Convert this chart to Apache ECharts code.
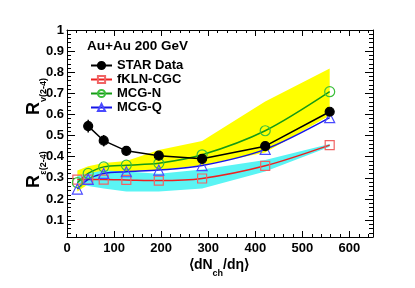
<!DOCTYPE html>
<html><head><meta charset="utf-8">
<script src="https://cdn.jsdelivr.net/npm/echarts@6/dist/echarts.min.js"></script>
<style>html,body{margin:0;padding:0;background:#fff}#c{width:415px;height:288px}</style>
</head><body><div id="c"></div>
<script>
// ---- data ----
const multX   = [22, 45, 78, 126, 195, 287, 421, 558];
const starX   = [45, 78, 126, 195, 287, 421, 558];
const starY   = [0.545, 0.476, 0.428, 0.405, 0.390, 0.450, 0.613];
const starErr = [0.030, 0.027, 0.022, 0.016, 0.013, 0.011, 0.011];
const fklnY   = [0.292, 0.292, 0.292, 0.290, 0.287, 0.297, 0.357, 0.455];
const mcgNY   = [0.277, 0.321, 0.352, 0.360, 0.369, 0.409, 0.523, 0.708];
const mcgQY   = [0.247, 0.293, 0.321, 0.329, 0.337, 0.358, 0.435, 0.585];
const yellowLo = [0.235, 0.270, 0.310, 0.330, 0.337, 0.360, 0.420, 0.595];
const yellowHi = [0.335, 0.355, 0.370, 0.380, 0.432, 0.475, 0.662, 0.818];
const cyanLo   = [0.275, 0.262, 0.250, 0.235, 0.235, 0.250, 0.330, 0.447];
const cyanHi   = [0.310, 0.322, 0.335, 0.330, 0.320, 0.340, 0.385, 0.460];
const yTickLabels = [0.1, 0.2, 0.3, 0.4, 0.5, 0.6, 0.7, 0.8, 0.9, 1.0];
const legendNames = ['STAR Data', 'fKLN-CGC', 'MCG-N', 'MCG-Q'];

const FONT = 'Liberation Sans, Arial, Helvetica, sans-serif';
const chart = echarts.init(document.getElementById('c'), null, {renderer: 'canvas'});

function bandSeries(lo, hi, color, z) {
  return {
    type: 'custom', silent: true, z: z, clip: true,
    data: multX.map((x, i) => [x, lo[i], hi[i]]),
    encode: {x: 0, y: [1, 2]},
    renderItem: function (params, api) {
      if (params.dataIndex !== 0) return null;
      const top = multX.map((x, i) => api.coord([x, hi[i]]));
      const bot = multX.map((x, i) => api.coord([x, lo[i]])).reverse();
      return {type: 'polygon', shape: {points: top.concat(bot)}, style: {fill: color}};
    }
  };
}
function lineSeries(name, xs, ys, symbol, size, lineColor, markColor, fill, z, smooth) {
  return {
    type: 'line', name: name, data: xs.map((x, i) => [x, ys[i]]),
    symbol: symbol, symbolSize: size, smooth: smooth, showAllSymbol: true, z: z,
    lineStyle: {color: lineColor, width: 1.5},
    itemStyle: {color: fill, borderColor: markColor, borderWidth: 1.2},
    emphasis: {disabled: true}
  };
}

const yMain = (pos, labels) => ({
  type: 'value', min: 0.02, max: 1, position: pos,
  axisLine: {show: true, lineStyle: {color: '#000', width: 1}},
  axisTick: {show: true, inside: true, length: 8, customValues: yTickLabels, lineStyle: {color: '#000'}},
  axisLabel: {show: labels, customValues: yTickLabels, margin: 3, color: '#000', fontSize: 13, fontWeight: 'bold', fontFamily: FONT,
              formatter: v => (Math.abs(v - 1) < 1e-6 ? '1' : v.toFixed(1))},
  splitLine: {show: false}
});
const yMinor = (pos) => ({
  type: 'value', min: 0.02, max: 1, interval: 0.02, position: pos,
  axisLine: {show: false}, axisLabel: {show: false}, splitLine: {show: false},
  axisTick: {show: true, inside: true, length: 4, lineStyle: {color: '#000'}}
});
const xAx = (pos, labels) => ({
  type: 'value', min: 0, max: 650, interval: 100, position: pos,
  axisLine: {show: true, onZero: false, lineStyle: {color: '#000', width: 1}},
  axisTick: {show: true, inside: true, length: 6, lineStyle: {color: '#000'}},
  minorTick: {show: true, splitNumber: 5, length: 3, lineStyle: {color: '#000'}},
  axisLabel: {show: labels, margin: 5, color: '#000', fontSize: 13, fontWeight: 'bold', fontFamily: FONT,
              showMaxLabel: false},
  splitLine: {show: false}
});

// text layout helpers for axis titles
const mctx = document.createElement('canvas').getContext('2d');
function tw(t, size) { mctx.font = 'bold ' + size + 'px ' + FONT; return mctx.measureText(t).width; }
const graphics = [];
(function xTitle() {
  const a = '\u27E8dN', s = 'ch', b = '/d\u03B7\u27E9';
  const wa = tw(a, 14), ws = tw(s, 9), wb = tw(b, 14);
  const x0 = 219 - (wa + ws + wb) / 2;
  graphics.push({type: 'text', x: x0, y: 265, style: {text: a, font: 'bold 14px ' + FONT, fill: '#000', align: 'left', verticalAlign: 'middle'}});
  graphics.push({type: 'text', x: x0 + wa, y: 274, style: {text: s, font: 'bold 9px ' + FONT, fill: '#000', align: 'left', verticalAlign: 'middle'}});
  graphics.push({type: 'text', x: x0 + wa + ws, y: 265, style: {text: b, font: 'bold 14px ' + FONT, fill: '#000', align: 'left', verticalAlign: 'middle'}});
})();
function yTitle(sub, rx, ry, sx, sy) {
  graphics.push({type: 'text', x: rx, y: ry, rotation: Math.PI / 2, style: {text: 'R', font: 'bold 18px ' + FONT, fill: '#000', align: 'center', verticalAlign: 'middle'}});
  graphics.push({type: 'text', x: sx, y: sy, rotation: Math.PI / 2, style: {text: sub, font: 'bold 9px ' + FONT, fill: '#000', align: 'center', verticalAlign: 'middle'}});
}
yTitle('v(2-4)', 34, 108.5, 44, 90);
yTitle('\u03B5(2-4)', 34, 181.5, 43.5, 163);
graphics.push({type: 'text', x: 87, y: 46, style: {text: 'Au+Au 200 GeV', font: 'bold 13.5px ' + FONT, fill: '#000', align: 'left', verticalAlign: 'middle'}});

const option = {
  animation: false,
  backgroundColor: '#fff',
  grid: {left: 67, right: 42, top: 30, bottom: 51, containLabel: false},
  xAxis: [xAx('bottom', true), xAx('top', false)],
  yAxis: [yMain('left', true), yMinor('left'), yMain('right', false), yMinor('right')],
  legend: {
    orient: 'vertical', left: 85, top: 54, itemWidth: 21, itemHeight: 9, itemGap: 1,
    selectedMode: false, data: legendNames,
    textStyle: {fontSize: 13, fontWeight: 'bold', fontFamily: FONT, color: '#000'}
  },
  graphic: graphics,
  series: [
    bandSeries(yellowLo, yellowHi, '#ffff00', 1),
    bandSeries(cyanLo, cyanHi, '#5af4f4', 2),
    lineSeries(legendNames[1], multX, fklnY, 'rect', 9, '#ee2020', '#f06464', 'rgba(0,0,0,0)', 4, 0.3),
    lineSeries(legendNames[2], multX, mcgNY, 'circle', 10, '#159a15', '#3cbf3c', 'rgba(0,0,0,0)', 4, 0.3),
    lineSeries(legendNames[3], multX, mcgQY, 'triangle', 10, '#1515e6', '#4a4aff', 'rgba(0,0,0,0)', 4, 0.3),
    {
      type: 'custom', z: 5, silent: true,
      data: starX.map((x, i) => [x, starY[i] - starErr[i], starY[i] + starErr[i]]),
      encode: {x: 0, y: [1, 2]},
      renderItem: function (params, api) {
        const p1 = api.coord([api.value(0), api.value(1)]);
        const p2 = api.coord([api.value(0), api.value(2)]);
        return {type: 'line', shape: {x1: p1[0], y1: p1[1], x2: p2[0], y2: p2[1]}, style: {stroke: '#000', lineWidth: 1.5}};
      }
    },
    lineSeries(legendNames[0], starX, starY, 'circle', 9, '#000', '#000', '#000', 6, false)
  ]
};
chart.setOption(option);
</script></body></html>
